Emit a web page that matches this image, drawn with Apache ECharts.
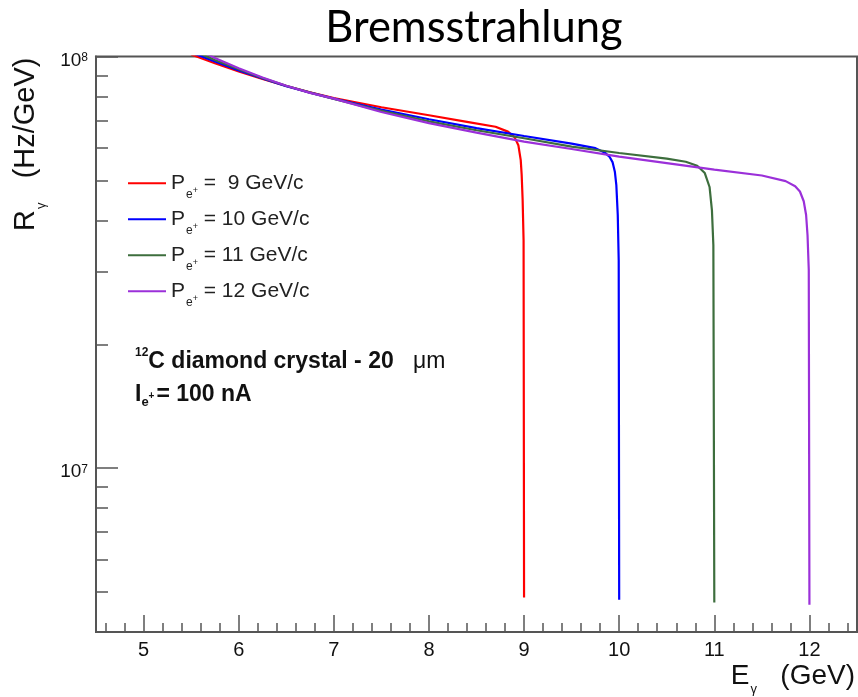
<!DOCTYPE html>
<html>
<head>
<meta charset="utf-8">
<script src="https://cdn.jsdelivr.net/npm/echarts@6/dist/echarts.min.js"></script>
<style>
html, body { margin: 0; padding: 0; background: #fff; }
#chart { width: 858px; height: 697px; }
</style>
</head>
<body>
<div id="chart"></div>
<script>
// photon energy E (GeV) and rate R (Hz/GeV), one pair per beam momentum
var e9  = [5.5, 5.75, 6.0, 6.25, 6.5, 6.75, 7.0, 7.5, 8.0, 8.4, 8.7, 8.83, 8.9, 8.94, 8.965, 8.975, 8.985, 8.995, 9.0];
var r9  = [1.011e8, 9.63e7, 9.20e7, 8.82e7, 8.48e7, 8.18e7, 7.93e7, 7.53e7, 7.20e7, 6.94e7, 6.75e7, 6.57e7, 6.37e7, 6.09e7, 5.60e7, 5.15e7, 4.48e7, 3.58e7, 4.85e6];

var e10 = [5.5, 5.75, 6.0, 6.25, 6.5, 6.75, 7.0, 7.5, 8.0, 8.5, 9.0, 9.5, 9.75, 9.85, 9.9, 9.93, 9.955, 9.97, 9.985, 9.995, 10.0];
var r10 = [1.023e8, 9.72e7, 9.25e7, 8.84e7, 8.47e7, 8.17e7, 7.90e7, 7.43e7, 7.04e7, 6.70e7, 6.41e7, 6.14e7, 5.99e7, 5.84e7, 5.70e7, 5.54e7, 5.24e7, 4.87e7, 4.12e7, 3.20e7, 4.79e6];

var e11 = [5.5, 5.75, 6.0, 6.25, 6.5, 6.75, 7.0, 7.5, 8.0, 8.5, 9.0, 9.5, 10.0, 10.5, 10.7, 10.82, 10.9, 10.95, 10.975, 10.99, 11.0];
var r11 = [1.037e8, 9.81e7, 9.31e7, 8.87e7, 8.49e7, 8.17e7, 7.89e7, 7.38e7, 6.96e7, 6.62e7, 6.33e7, 6.04e7, 5.83e7, 5.65e7, 5.55e7, 5.43e7, 5.21e7, 4.82e7, 4.23e7, 3.48e7, 4.72e6];

var e12 = [5.5, 5.75, 6.0, 6.25, 6.5, 6.75, 7.0, 7.5, 8.0, 8.5, 9.0, 9.5, 10.0, 10.5, 11.0, 11.5, 11.75, 11.85, 11.9, 11.94, 11.965, 11.98, 11.993, 12.0];
var r12 = [1.058e8, 9.92e7, 9.36e7, 8.89e7, 8.49e7, 8.16e7, 7.90e7, 7.33e7, 6.89e7, 6.53e7, 6.21e7, 5.96e7, 5.71e7, 5.51e7, 5.31e7, 5.14e7, 4.98e7, 4.84e7, 4.70e7, 4.45e7, 4.12e7, 3.68e7, 3.03e7, 4.66e6];

var momenta = ['9', '10', '11', '12'];
var energies = [e9, e10, e11, e12];
var rates = [r9, r10, r11, r12];
var colors = ['#ff0000', '#0000ff', '#3d6e3d', '#9b30d9'];

// axis ticks
var xMajor = [5, 6, 7, 8, 9, 10, 11, 12];
var yMajor = [1e7, 1e8];
var yMinor = [4e6, 5e6, 6e6, 7e6, 8e6, 9e6, 2e7, 3e7, 4e7, 5e7, 6e7, 7e7, 8e7, 9e7];
var xMinor = [];
for (var k = 4; k <= 12; k++) {
	for (var j = 1; j <= 4; j++) {
		var t = Math.round((k + j * 0.2) * 10) / 10;
		if (t > 4.5 && t < 12.5) xMinor.push(t);
	}
}

var sans = '"Liberation Sans", Arial, Helvetica, sans-serif';
var axisColor = '#555';
var names = momenta.map(function (p) { return 'P = ' + p + ' GeV/c'; });

var chart = echarts.init(document.getElementById('chart'));

var series = momenta.map(function (p, i) {
	return {
		name: names[i],
		type: 'line',
		data: energies[i].map(function (e, n) { return [e, rates[i][n]]; }),
		showSymbol: false,
		symbol: 'none',
		clip: true,
		lineStyle: { color: colors[i], width: 2.2 },
		itemStyle: { color: colors[i] },
		z: 2 + i
	};
});

var option = {
	animation: false,
	backgroundColor: '#fff',
	grid: { left: 96, right: -3, top: 56.5, bottom: 65, show: true, borderColor: axisColor, borderWidth: 2, backgroundColor: 'transparent' },
	xAxis: [{
		type: 'value', position: 'bottom', min: 4.5, max: 12.5,
		axisLine: { onZero: false, lineStyle: { color: axisColor, width: 2 } },
		axisTick: { inside: true, length: 17, customValues: xMajor, lineStyle: { color: axisColor, width: 1.5 } },
		axisLabel: { customValues: xMajor, margin: 8, color: '#111', fontSize: 20, fontFamily: sans },
		splitLine: { show: false },
		name: '{e|E}{g|γ}{t|   (GeV)}',
		nameLocation: 'end', nameGap: -2, nameMoveOverlap: false,
		nameTextStyle: {
			align: 'right', verticalAlign: 'top', padding: [30.5, 0, 0, 0],
			rich: {
				e: { fontSize: 28, lineHeight: 28, verticalAlign: 'top', color: '#111', fontFamily: sans },
				t: { fontSize: 28, lineHeight: 28, verticalAlign: 'top', color: '#111', fontFamily: sans },
				g: { fontSize: 13, lineHeight: 13, verticalAlign: 'top', padding: [20, 0, 0, 1], color: '#111', fontFamily: sans }
			}
		}
	}, {
		type: 'value', position: 'bottom', min: 4.5, max: 12.5,
		axisLine: { show: false, onZero: false },
		axisTick: { inside: true, length: 9, customValues: xMinor, lineStyle: { color: axisColor, width: 1.5 } },
		axisLabel: { show: false },
		splitLine: { show: false }
	}],
	yAxis: [{
		type: 'log', position: 'left', logBase: 10, min: 4e6, max: 1e8,
		axisLine: { show: true, onZero: false, lineStyle: { color: axisColor, width: 2 } },
		axisTick: { inside: true, length: 22, customValues: yMajor, lineStyle: { color: axisColor, width: 1.5 } },
		axisLabel: {
			customValues: yMajor, margin: 8,
			formatter: function (v) { return '{b|10}{s|' + Math.round(Math.log10(v)) + '}'; },
			rich: {
				b: { fontSize: 19, lineHeight: 20, padding: [8, 0, 0, 0], verticalAlign: 'middle', color: '#111', fontFamily: sans },
				s: { fontSize: 12, lineHeight: 20, padding: [3, 0, 0, 0], verticalAlign: 'middle', color: '#111', fontFamily: sans }
			}
		},
		splitLine: { show: false },
		minorTick: { show: false },
		name: '{r|R}{g|γ}{t|   (Hz/GeV)}',
		nameLocation: 'end', nameGap: -1, nameRotate: 90, nameMoveOverlap: false,
		nameTextStyle: {
			align: 'right', verticalAlign: 'bottom', padding: [0, 0, 55.5, 0],
			rich: {
				r: { fontSize: 29, lineHeight: 29, verticalAlign: 'top', color: '#111', fontFamily: sans },
				t: { fontSize: 29, lineHeight: 29, verticalAlign: 'top', color: '#111', fontFamily: sans },
				g: { fontSize: 13, lineHeight: 13, verticalAlign: 'top', padding: [23.5, 0, 0, 1], color: '#111', fontFamily: sans }
			}
		}
	}, {
		type: 'log', position: 'left', logBase: 10, min: 4e6, max: 1e8,
		axisLine: { show: false, onZero: false },
		axisTick: { inside: true, length: 12, customValues: yMinor, lineStyle: { color: axisColor, width: 1.5 } },
		axisLabel: { show: false },
		splitLine: { show: false }
	}],
	legend: {
		orient: 'vertical', left: 128, top: 166.3, padding: 0, itemGap: 2,
		icon: 'rect', itemWidth: 38, itemHeight: 2,
		data: names,
		formatter: function (name) {
			var p = momenta[names.indexOf(name)];
			var pad = p.length < 2 ? '  ' : ' ';
			return '{p|P}{s|e}{sp|+}{t| =' + pad + p + ' GeV/c}';
		},
		textStyle: {
			color: '#222',
			rich: {
				p: { fontSize: 21, lineHeight: 21, verticalAlign: 'middle', color: '#222', fontFamily: sans },
				t: { fontSize: 21, lineHeight: 21, verticalAlign: 'middle', color: '#222', fontFamily: sans },
				s: { fontSize: 12, lineHeight: 12, padding: [22, 0, 0, 1], verticalAlign: 'middle', color: '#222', fontFamily: sans },
				sp: { fontSize: 9, lineHeight: 9, padding: [14, 0, 0, 0], verticalAlign: 'middle', color: '#222', fontFamily: sans }
			}
		}
	},
	graphic: [{
		type: 'text', x: 474, y: 28,
		style: { text: 'Bremsstrahlung', fontFamily: 'Lato, "Open Sans", sans-serif', fontSize: 43.5, fill: '#000', align: 'center', verticalAlign: 'middle' }
	}, {
		type: 'text', x: 135, y: 346.5,
		style: {
			text: '{sup|12}{b|C diamond crystal - 20}{mu|   μm}', verticalAlign: 'top',
			rich: {
				sup: { fontSize: 12, lineHeight: 12, fontWeight: 'bold', verticalAlign: 'top', fill: '#111', fontFamily: sans },
				b: { fontSize: 23, lineHeight: 23, fontWeight: 'bold', padding: [3.5, 0, 0, 0], verticalAlign: 'top', fill: '#111', fontFamily: sans },
				mu: { fontSize: 23, lineHeight: 23, padding: [3.5, 0, 0, 0], verticalAlign: 'top', fill: '#111', fontFamily: sans }
			}
		}
	}, {
		type: 'text', x: 135, y: 383,
		style: {
			text: '{b|I}{s|e}{sp|+}{b|= 100 nA}', verticalAlign: 'top',
			rich: {
				b: { fontSize: 23, lineHeight: 23, fontWeight: 'bold', verticalAlign: 'top', fill: '#111', fontFamily: sans },
				s: { fontSize: 13, lineHeight: 13, fontWeight: 'bold', padding: [12.5, 0, 0, 0], verticalAlign: 'top', fill: '#111', fontFamily: sans },
				sp: { fontSize: 10, lineHeight: 10, fontWeight: 'bold', padding: [8.5, 2, 0, 0], verticalAlign: 'top', fill: '#111', fontFamily: sans }
			}
		}
	}],
	series: series
};

chart.setOption(option);
</script>
</body>
</html>
